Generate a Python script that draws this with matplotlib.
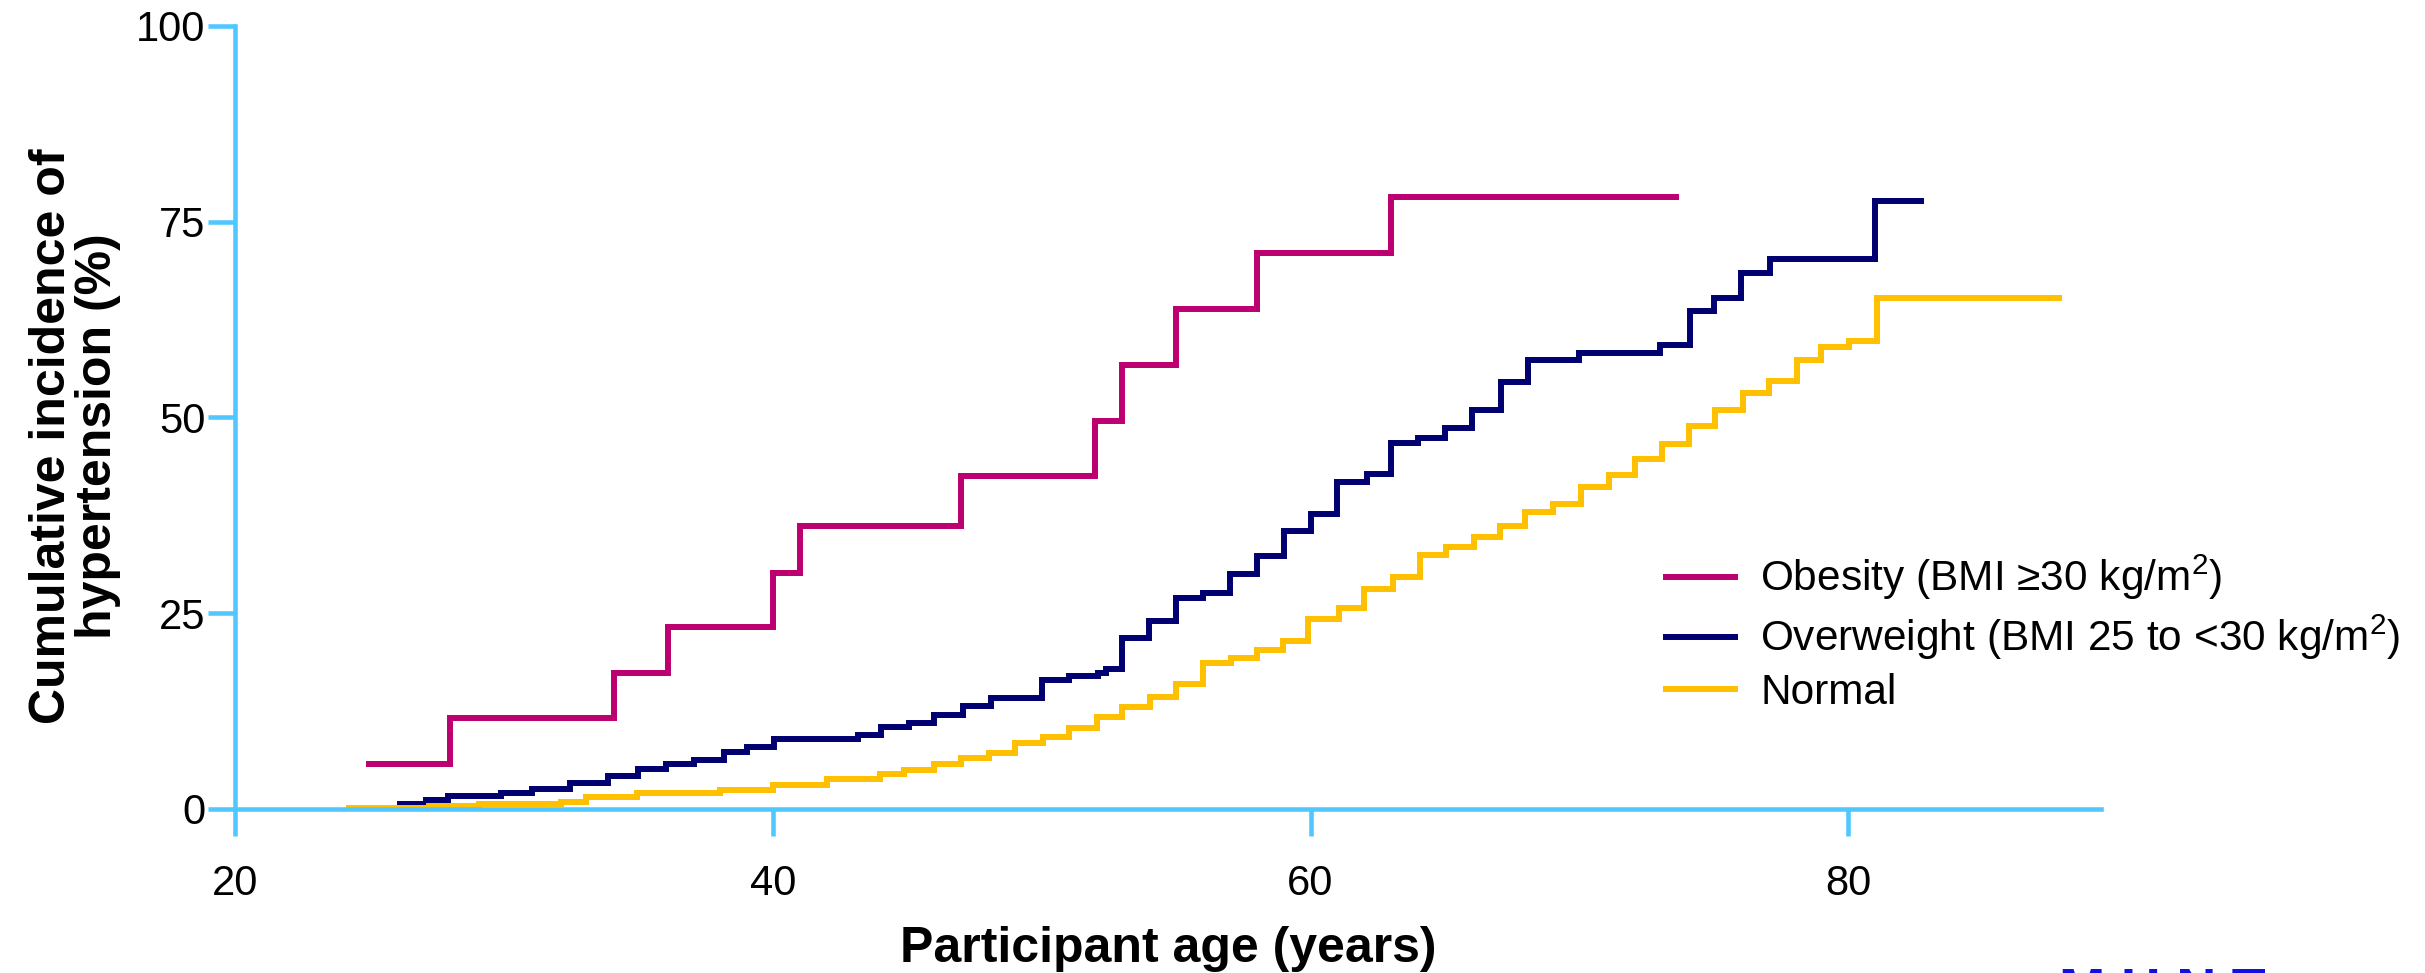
import matplotlib
matplotlib.use("Agg")
import matplotlib.pyplot as plt
from matplotlib.lines import Line2D

plt.rcParams['font.family'] = ['Liberation Sans', 'DejaVu Sans']
plt.rcParams['mathtext.fontset'] = 'custom'
plt.rcParams['mathtext.rm'] = 'Liberation Sans'

# step data (age at step, cumulative % after step)
obesity_age = [25.0, 28.0, 34.1, 36.1, 40.0, 41.0, 47.0, 52.0, 53.0, 55.0, 58.0, 63.0, 73.6]
obesity_pct = [5.8, 11.6, 17.4, 23.3, 30.1, 36.2, 42.5, 49.6, 56.7, 63.8, 71.0, 78.1, 78.1]

overweight_age = [26.15, 27.1, 27.94, 29.88, 31.05, 32.46, 33.87, 34.98, 36.02, 37.07,
                  38.18, 39.06, 40.06, 43.16, 44.04, 45.07, 46.01, 47.06, 48.1, 50.0,
                  51.0, 52.1, 52.4, 53.0, 54.0, 55.0, 56.0, 57.0, 58.0, 59.0,
                  60.0, 61.0, 62.1, 63.0, 64.0, 65.0, 66.0, 67.1, 68.1, 70.0,
                  73.0, 74.1, 75.0, 76.0, 77.1, 81.0, 82.7]
overweight_pct = [0.6, 1.2, 1.6, 2.1, 2.6, 3.3, 4.2, 5.1, 5.7, 6.2,
                  7.3, 7.9, 8.9, 9.4, 10.5, 11.0, 12.0, 13.1, 14.2, 16.5,
                  17.0, 17.3, 17.9, 21.8, 24.0, 27.0, 27.6, 30.0, 32.3, 35.5,
                  37.7, 41.7, 42.8, 46.7, 47.4, 48.7, 50.9, 54.5, 57.4, 58.2,
                  59.3, 63.6, 65.2, 68.5, 70.3, 77.6, 77.6]

normal_age = [24.24, 27.23, 29.06, 32.13, 33.04, 34.95, 37.1, 38.02, 40.0, 42.0,
              44.0, 44.9, 46.0, 47.0, 48.06, 49.0, 50.05, 51.0, 52.05, 53.0,
              54.03, 55.0, 56.0, 57.06, 58.0, 58.96, 59.91, 61.05, 62.0, 63.05,
              64.09, 65.03, 66.08, 67.03, 67.97, 69.02, 70.06, 71.1, 72.05, 73.06,
              74.07, 75.04, 76.09, 77.06, 78.08, 79.0, 80.04, 81.06, 87.85]
normal_pct = [0.1, 0.4, 0.6, 0.9, 1.5, 2.0, 2.1, 2.4, 3.1, 3.8,
              4.5, 5.0, 5.8, 6.5, 7.1, 8.4, 9.2, 10.3, 11.8, 13.0,
              14.3, 15.9, 18.6, 19.3, 20.3, 21.5, 24.3, 25.7, 28.1, 29.6,
              32.4, 33.5, 34.7, 36.1, 37.9, 39.0, 41.1, 42.7, 44.7, 46.6,
              48.9, 51.0, 53.1, 54.7, 57.3, 59.0, 59.8, 65.3, 65.3]

labels = ["Obesity (BMI \u226530 kg/m$^2$)",
          "Overweight (BMI 25 to <30 kg/m$^2$)",
          "Normal"]
colors = ["#BC0070", "#000070", "#FFC000"]
x_ticks = [20, 40, 60, 80]
y_ticks = [0, 25, 50, 75, 100]

axis_col = "#50C8FF"
lw = 4.3

fig = plt.figure(figsize=(24.25, 9.73), dpi=100)
ax_left, ax_right = 0.0969, 0.8664
ax = fig.add_axes([ax_left, 0.1686, ax_right - ax_left, 0.9733 - 0.1686])

series = [(obesity_age, obesity_pct), (overweight_age, overweight_pct), (normal_age, normal_pct)]
for (xs, ys), c in zip(series, colors):
    ax.plot(xs, ys, drawstyle='steps-post', color=c, lw=lw, solid_joinstyle='miter')

ax.set_xlim(20, 89.4)
ax.set_ylim(0, 100)
ax.set_xticks(x_ticks)
ax.set_yticks(y_ticks)

for s in ['top', 'right']:
    ax.spines[s].set_visible(False)
for s in ['left', 'bottom']:
    ax.spines[s].set_color(axis_col)
    ax.spines[s].set_linewidth(3.3)

ax.tick_params(axis='both', colors=axis_col, labelcolor='black', labelsize=30,
               length=19.4, width=3.3, direction='out')
ax.tick_params(axis='y', pad=2)
ax.tick_params(axis='x', pad=20)
# the top tick is drawn dark in the original
ax.yaxis.get_major_ticks()[-1].tick1line.set_color("#000050")

fig.text((ax_left + ax_right) / 2, 11 / 973, "Participant age (years)", ha='center',
         va='baseline', fontsize=36, fontweight='bold')
fig.text(0.031, 0.552, "Cumulative incidence of\nhypertension (%)", rotation=90,
         ha='center', va='center', multialignment='center', fontsize=36,
         fontweight='bold', linespacing=1.0)

handles = [Line2D([0], [0], color=c, lw=lw) for c in colors]
ax.legend(handles, labels, loc='upper left', bbox_to_anchor=(0.687, 1 - 553 / 973),
          bbox_transform=fig.transFigure, frameon=False, fontsize=30.5,
          handlelength=1.62, handletextpad=0.6, labelspacing=0.25,
          borderpad=0, borderaxespad=0)

# clipped logo at the bottom edge
fig.text(0.849, 0.006, "M H N T", color="#1010E0", fontsize=40, fontweight='bold', va='top')

fig.savefig("out.png", dpi=100)
